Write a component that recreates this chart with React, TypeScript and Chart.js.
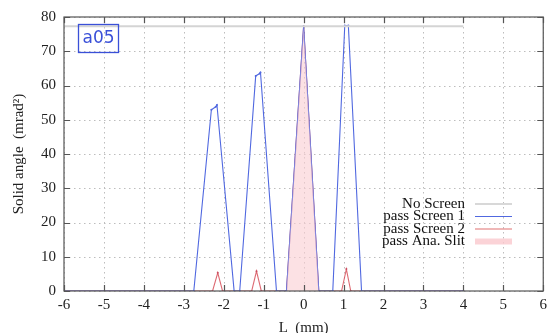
import React, { useEffect, useRef } from "react";
import { Chart, registerables } from "chart.js";

Chart.register(...registerables);

const xTicks = [-6, -5, -4, -3, -2, -1, 0, 1, 2, 3, 4, 5, 6];
const yTicks = [0, 10, 20, 30, 40, 50, 60, 70, 80];

const noScreenL = [-6, 4];
const noScreenV = [77.3, 77.3];

const screen1L = [-6, -2.75, -2.31, -2.2, -2.17, -1.74, -1.6, -1.2, -1.1, -1.08, -0.68, -0.43, 0, 0.38, 0.73, 1.03, 1.12, 1.45, 4];
const screen1V = [0, 0, 52.9, 53.8, 54.3, 0, 0, 62.8, 63.5, 63.8, 0, 0, 77.3, 0, 0, 77.5, 77.5, 0, 0];

const screen2L = [-6, -2.28, -2.15, -2.03, -1.3, -1.18, -1.06, -0.43, 0, 0.38, 0.95, 1.07, 1.18, 4];
const screen2V = [0, 0, 5.3, 0, 0, 5.8, 0, 0, 77.3, 0, 0, 6.4, 0, 0];

const slitL = [-0.43, 0, 0.38];
const slitV = [0, 77.3, 0];

const legendLabels = ["No Screen", "pass Screen 1", "pass Screen 2", "pass Ana. Slit"];
const panelLabel = "a05";

const SERIF = "'Liberation Serif', 'DejaVu Serif', serif";

const toXY = (xs: number[], ys: number[]) => xs.map((x, i) => ({ x, y: ys[i] }));

const gridPlugin = {
  id: "dotGrid",
  beforeDatasetsDraw(chart: any) {
    const ctx = chart.ctx;
    const { left, right, top, bottom } = chart.chartArea;
    const xs = chart.scales.x;
    const ys = chart.scales.y;
    ctx.save();
    ctx.strokeStyle = "#bdbdbd";
    ctx.lineWidth = 1;
    ctx.setLineDash([1.5, 3.5]);
    ctx.beginPath();
    xTicks.forEach((t) => {
      const px = Math.round(xs.getPixelForValue(t)) + 0.5;
      ctx.moveTo(px, top);
      ctx.lineTo(px, bottom);
    });
    yTicks.forEach((t) => {
      const py = Math.round(ys.getPixelForValue(t)) + 0.5;
      ctx.moveTo(left, py);
      ctx.lineTo(right, py);
    });
    ctx.stroke();
    ctx.restore();
  },
};

const framePlugin = {
  id: "frameDeco",
  afterDatasetsDraw(chart: any) {
    const ctx = chart.ctx;
    const { left, right, top, bottom } = chart.chartArea;
    const xs = chart.scales.x;
    const ys = chart.scales.y;
    ctx.save();
    ctx.strokeStyle = "#555";
    ctx.lineWidth = 1.2;
    ctx.strokeRect(left, top, right - left, bottom - top);
    ctx.beginPath();
    xTicks.forEach((t) => {
      const px = Math.round(xs.getPixelForValue(t)) + 0.5;
      ctx.moveTo(px, bottom);
      ctx.lineTo(px, bottom - 6);
      ctx.moveTo(px, top);
      ctx.lineTo(px, top + 6);
    });
    yTicks.forEach((t) => {
      const py = Math.round(ys.getPixelForValue(t)) + 0.5;
      ctx.moveTo(left, py);
      ctx.lineTo(left + 6, py);
      ctx.moveTo(right, py);
      ctx.lineTo(right - 6, py);
    });
    ctx.stroke();

    // panel label
    ctx.strokeStyle = "#3a50d8";
    ctx.lineWidth = 1.3;
    ctx.strokeRect(78.5, 24.5, 40, 28);
    ctx.fillStyle = "#3a50d8";
    ctx.font = "17px 'DejaVu Sans', sans-serif";
    ctx.textAlign = "center";
    ctx.textBaseline = "middle";
    ctx.fillText(panelLabel, 98.5, 39);

    // legend
    const styles = [
      { c: "#d8d8d8", w: 2 },
      { c: "#5068e0", w: 1.2 },
      { c: "#e07070", w: 1.2 },
      { c: "rgba(250,200,205,0.8)", w: 6 },
    ];
    ctx.font = "15px " + SERIF;
    ctx.textAlign = "right";
    legendLabels.forEach((lab, i) => {
      const y = 204 + i * 12.5;
      ctx.fillStyle = "#111";
      ctx.fillText(lab, 465, y);
      ctx.strokeStyle = styles[i].c;
      ctx.lineWidth = styles[i].w;
      ctx.beginPath();
      ctx.moveTo(475, y);
      ctx.lineTo(512, y);
      ctx.stroke();
    });
    ctx.restore();
  },
};

export default function App() {
  const ref = useRef<HTMLCanvasElement>(null);
  useEffect(() => {
    document.body.style.margin = "0";
    const chart = new Chart(ref.current!, {
      type: "line",
      data: {
        datasets: [
          {
            label: legendLabels[3],
            data: toXY(slitL, slitV),
            borderColor: "rgba(0,0,0,0)",
            backgroundColor: "rgba(250,205,210,0.6)",
            fill: "origin",
            pointRadius: 0,
            borderWidth: 0,
          },
          {
            label: legendLabels[0],
            data: toXY(noScreenL, noScreenV),
            borderColor: "#d4d4d4",
            borderWidth: 2,
            pointRadius: 0,
            fill: false,
          },
          {
            label: legendLabels[1],
            data: toXY(screen1L, screen1V),
            borderColor: "#5068e0",
            borderWidth: 1.1,
            pointRadius: 1,
            pointBackgroundColor: "#5068e0",
            pointBorderWidth: 0,
            fill: false,
          },
          {
            label: legendLabels[2],
            data: toXY(screen2L, screen2V),
            borderColor: "rgba(215,80,90,0.85)",
            borderWidth: 1.1,
            pointRadius: 1,
            pointBackgroundColor: "rgba(200,70,90,0.9)",
            pointBorderWidth: 0,
            fill: false,
          },
        ],
      },
      options: {
        animation: false,
        responsive: false,
        maintainAspectRatio: false,
        layout: { padding: { top: 16, right: 8, left: 10, bottom: 0 } },
        plugins: {
          legend: { display: false },
          tooltip: { enabled: false },
        },
        scales: {
          x: {
            type: "linear",
            min: -6,
            max: 6,
            afterFit: (s: any) => {
              s.height = 42;
            },
            ticks: {
              stepSize: 1,
              color: "#222",
              font: { family: SERIF, size: 15 },
              padding: 5,
            },
            grid: { display: false, drawTicks: false },
            border: { display: false },
            title: {
              display: true,
              text: "L  (mm)",
              color: "#222",
              font: { family: SERIF, size: 15 },
              padding: { top: 2, bottom: -4 },
            },
          },
          y: {
            type: "linear",
            min: 0,
            max: 80,
            afterFit: (s: any) => {
              s.width = 54;
            },
            ticks: {
              stepSize: 10,
              color: "#222",
              font: { family: SERIF, size: 15 },
              padding: 8,
            },
            grid: { display: false, drawTicks: false },
            border: { display: false },
            title: {
              display: true,
              text: "Solid angle  (mrad²)",
              color: "#222",
              font: { family: SERIF, size: 15 },
              padding: { top: 0, bottom: 6 },
            },
          },
        },
      },
      plugins: [gridPlugin, framePlugin],
    });
    return () => chart.destroy();
  }, []);
  return (
    <div style={{ width: 552, height: 333 }}>
      <canvas ref={ref} width={552} height={333} style={{ display: "block" }} />
    </div>
  );
}
